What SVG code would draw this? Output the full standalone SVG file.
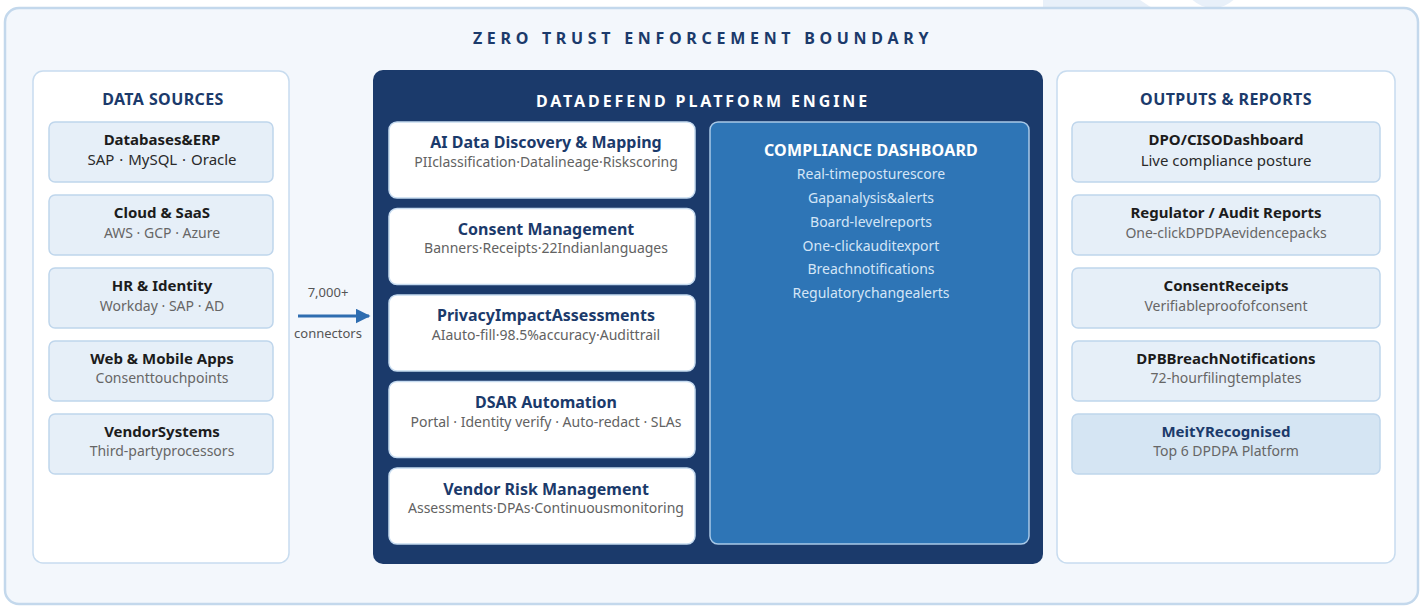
<svg xmlns="http://www.w3.org/2000/svg" width="1425" height="607" viewBox="0 0 1425 607">
  <defs>
    <style>
      text { font-family: "Noto Sans", "Open Sans", "Liberation Sans", sans-serif; }
      .frame { fill: #f3f7fc; stroke: #c3d8ec; stroke-width: 2.5; }
      .panel { fill: #ffffff; stroke: #c8dcef; stroke-width: 1.5; }
      .panel-title { font-size: 16px; font-weight: 700; fill: #1b3a6b; text-anchor: middle; letter-spacing: 0.4px; }
      .card { fill: #e6eff8; stroke: #bfd6ec; stroke-width: 1.5; }
      .card-hi { fill: #d5e5f3; stroke: #bfd6ec; stroke-width: 1.5; }
      .card-title { font-size: 15px; font-weight: 700; fill: #1c1c1c; text-anchor: middle; }
      .card-title-blue { font-size: 15px; font-weight: 700; fill: #1b3a6b; text-anchor: middle; }
      .card-sub { font-size: 14px; fill: #666666; text-anchor: middle; }
      .card-sub-dark { font-size: 15px; fill: #2a2a2a; text-anchor: middle; }
      .engine { fill: #1b3a6b; }
      .engine-title { font-size: 16px; font-weight: 700; fill: #ffffff; text-anchor: middle; letter-spacing: 2.9px; }
      .module { fill: #ffffff; stroke: #c6dbf0; stroke-width: 1.5; }
      .module-title { font-size: 16px; font-weight: 700; fill: #1b3a6b; text-anchor: middle; }
      .module-sub { font-size: 14px; fill: #626262; text-anchor: middle; }
      .dash { fill: #2e75b6; stroke: #a9c9e8; stroke-width: 1.5; }
      .dash-title { font-size: 16px; font-weight: 700; fill: #ffffff; text-anchor: middle; letter-spacing: 0.2px; }
      .dash-item { font-size: 14px; fill: #d4e5f6; text-anchor: middle; }
      .boundary-title { font-size: 16px; font-weight: 700; fill: #1b3a6b; text-anchor: middle; letter-spacing: 4.7px; }
      .flow-label { font-size: 13px; fill: #555555; text-anchor: middle; }
      .flow { stroke: #2e6db0; stroke-width: 3; fill: none; }
    </style>
    <marker id="arrowhead" viewBox="0 0 10 10" refX="9" refY="5" markerWidth="5" markerHeight="5" orient="auto" markerUnits="strokeWidth">
      <path d="M0,0 L10,5 L0,10 z" fill="#2e6db0"/>
    </marker>
  </defs>

  <!-- faint watermark shapes behind the boundary frame -->
  <g id="watermark" fill="#e8f0f9">
    <path d="M1043,0 L1140,0 L1152,8 L1043,8 z"/>
    <circle cx="1213" cy="-22" r="30"/>
  </g>

  <!-- outer zero-trust frame -->
  <g id="boundary">
    <rect class="frame" x="5" y="8" width="1413" height="596" rx="14"/>
    <text class="boundary-title" x="703" y="44">ZERO TRUST ENFORCEMENT BOUNDARY</text>
  </g>

  <!-- data sources column -->
  <g id="data-sources">
    <rect class="panel" x="33" y="71" width="256" height="492" rx="10"/>
    <text class="panel-title" x="163" y="105">DATA SOURCES</text>
  </g>
  <g id="src-databases">
    <rect class="card" x="49" y="122" width="224" height="60" rx="6"/>
    <text class="card-title" x="162" y="145">Databases&amp;ERP</text>
    <text class="card-sub-dark" x="162" y="165" word-spacing="1">SAP · MySQL · Oracle</text>
  </g>
  <g id="src-cloud">
    <rect class="card" x="49" y="195" width="224" height="60" rx="6"/>
    <text class="card-title" x="162" y="218">Cloud &amp; SaaS</text>
    <text class="card-sub" x="162" y="238">AWS · GCP · Azure</text>
  </g>
  <g id="src-hr">
    <rect class="card" x="49" y="268" width="224" height="60" rx="6"/>
    <text class="card-title" x="162" y="291">HR &amp; Identity</text>
    <text class="card-sub" x="162" y="311">Workday · SAP · AD</text>
  </g>
  <g id="src-apps">
    <rect class="card" x="49" y="341" width="224" height="60" rx="6"/>
    <text class="card-title" x="162" y="364">Web &amp; Mobile Apps</text>
    <text class="card-sub" x="162" y="383">Consenttouchpoints</text>
  </g>
  <g id="src-vendor">
    <rect class="card" x="49" y="414" width="224" height="60" rx="6"/>
    <text class="card-title" x="162" y="437">VendorSystems</text>
    <text class="card-sub" x="162" y="456">Third-partyprocessors</text>
  </g>

  <!-- ingest connector -->
  <g id="connectors">
    <line class="flow" x1="298" y1="316" x2="369" y2="316" marker-end="url(#arrowhead)"/>
    <text class="flow-label" x="328" y="297">7,000+</text>
    <text class="flow-label" x="328" y="338">connectors</text>
  </g>

  <!-- platform engine -->
  <g id="engine">
    <rect class="engine" x="373" y="70" width="670" height="494" rx="10"/>
    <text class="engine-title" x="703" y="107">DATADEFEND PLATFORM ENGINE</text>
  </g>
  <g id="mod-discovery">
    <rect class="module" x="389" y="122" width="306" height="76" rx="8"/>
    <text class="module-title" x="546" y="148">AI Data Discovery &amp; Mapping</text>
    <text class="module-sub" x="546" y="167">PIIclassification·Datalineage·Riskscoring</text>
  </g>
  <g id="mod-consent">
    <rect class="module" x="389" y="208.5" width="306" height="76" rx="8"/>
    <text class="module-title" x="546" y="235">Consent Management</text>
    <text class="module-sub" x="546" y="253">Banners·Receipts·22Indianlanguages</text>
  </g>
  <g id="mod-pia">
    <rect class="module" x="389" y="295" width="306" height="76" rx="8"/>
    <text class="module-title" x="546" y="321">PrivacyImpactAssessments</text>
    <text class="module-sub" x="546" y="340">AIauto-fill·98.5%accuracy·Audittrail</text>
  </g>
  <g id="mod-dsar">
    <rect class="module" x="389" y="381.5" width="306" height="76" rx="8"/>
    <text class="module-title" x="546" y="408">DSAR Automation</text>
    <text class="module-sub" x="546" y="427">Portal · Identity verify · Auto-redact · SLAs</text>
  </g>
  <g id="mod-vendor">
    <rect class="module" x="389" y="468" width="306" height="76" rx="8"/>
    <text class="module-title" x="546" y="495">Vendor Risk Management</text>
    <text class="module-sub" x="546" y="513">Assessments·DPAs·Continuousmonitoring</text>
  </g>
  <g id="compliance-dashboard">
    <rect class="dash" x="710" y="122" width="319" height="422" rx="8"/>
    <text class="dash-title" x="871" y="156">COMPLIANCE DASHBOARD</text>
    <text class="dash-item" x="871" y="179">Real-timeposturescore</text>
    <text class="dash-item" x="871" y="203">Gapanalysis&amp;alerts</text>
    <text class="dash-item" x="871" y="227">Board-levelreports</text>
    <text class="dash-item" x="871" y="251">One-clickauditexport</text>
    <text class="dash-item" x="871" y="274">Breachnotifications</text>
    <text class="dash-item" x="871" y="298">Regulatorychangealerts</text>
  </g>

  <!-- outputs column -->
  <g id="outputs">
    <rect class="panel" x="1057" y="71" width="338" height="492" rx="10"/>
    <text class="panel-title" x="1226" y="105">OUTPUTS &amp; REPORTS</text>
  </g>
  <g id="out-dpo">
    <rect class="card" x="1072" y="122" width="308" height="60" rx="6"/>
    <text class="card-title" x="1226" y="145">DPO/CISODashboard</text>
    <text class="card-sub-dark" x="1226" y="166">Live compliance posture</text>
  </g>
  <g id="out-regulator">
    <rect class="card" x="1072" y="195" width="308" height="60" rx="6"/>
    <text class="card-title" x="1226" y="218">Regulator / Audit Reports</text>
    <text class="card-sub" x="1226" y="238">One-clickDPDPAevidencepacks</text>
  </g>
  <g id="out-receipts">
    <rect class="card" x="1072" y="268" width="308" height="60" rx="6"/>
    <text class="card-title" x="1226" y="291">ConsentReceipts</text>
    <text class="card-sub" x="1226" y="311">Verifiableproofofconsent</text>
  </g>
  <g id="out-breach">
    <rect class="card" x="1072" y="341" width="308" height="60" rx="6"/>
    <text class="card-title" x="1226" y="364">DPBBreachNotifications</text>
    <text class="card-sub" x="1226" y="383">72-hourfilingtemplates</text>
  </g>
  <g id="out-meity">
    <rect class="card-hi" x="1072" y="414" width="308" height="60" rx="6"/>
    <text class="card-title-blue" x="1226" y="437">MeitYRecognised</text>
    <text class="card-sub" x="1226" y="456">Top 6 DPDPA Platform</text>
  </g>
</svg>
